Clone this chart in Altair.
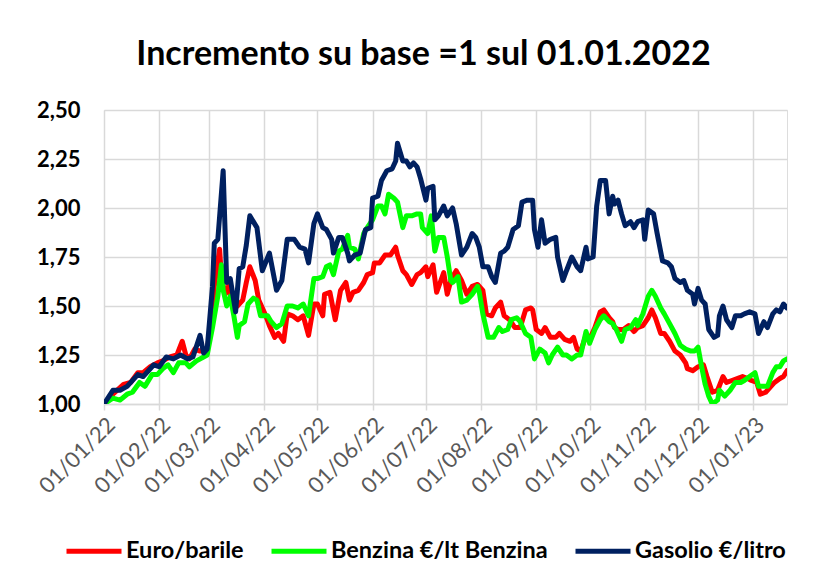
import altair as alt
import pandas as pd

series_names = ["Euro/barile", "Benzina €/lt Benzina", "Gasolio €/litro"]
series_colors = ["#FF0000", "#00FF00", "#002060"]

# days elapsed since 01/01/2022 and index values (base = 1)
euro_days = [0,5,11,15,19,22,26,30,33,37,41,44,46,48,51,54,58,61,62,65,
             66,68,70,72,75,78,80,82,85,87,91,93,96,98,101,103,106,109,112,115,
             118,120,123,124,127,130,133,136,138,140,143,146,148,151,152,155,158,161,164,165,
             168,170,173,176,178,181,182,185,187,189,191,193,195,196,198,201,204,207,210,213,
             215,218,220,223,225,228,231,234,237,240,241,243,246,248,251,254,256,259,262,264,
             266,268,271,273,276,279,281,284,286,287,289,292,295,298,300,303,306,308,310,313,
             315,318,321,324,327,328,331,334,337,339,342,345,348,350,353,356,359,362,364,367,
             369,372,375,377,380,382,384]
euro_vals = [1.00,1.05,1.10,1.11,1.16,1.16,1.19,1.21,1.22,1.24,1.25,1.32,1.25,1.23,1.28,1.27,1.28,1.45,1.60,1.79,
             1.65,1.56,1.60,1.51,1.50,1.53,1.62,1.70,1.63,1.53,1.45,1.40,1.34,1.36,1.32,1.46,1.45,1.43,1.45,1.35,
             1.51,1.51,1.45,1.56,1.57,1.43,1.58,1.62,1.53,1.57,1.58,1.62,1.66,1.67,1.72,1.72,1.76,1.76,1.80,1.76,
             1.68,1.66,1.61,1.66,1.67,1.70,1.65,1.71,1.57,1.62,1.67,1.56,1.63,1.65,1.68,1.63,1.56,1.60,1.61,1.58,
             1.46,1.45,1.49,1.52,1.45,1.43,1.39,1.39,1.48,1.49,1.48,1.38,1.36,1.39,1.34,1.34,1.36,1.33,1.32,1.34,
             1.28,1.27,1.35,1.33,1.39,1.47,1.48,1.44,1.42,1.39,1.38,1.38,1.40,1.37,1.39,1.40,1.44,1.48,1.44,1.36,
             1.36,1.32,1.27,1.25,1.21,1.18,1.17,1.19,1.20,1.14,1.06,1.07,1.14,1.11,1.12,1.13,1.14,1.13,1.12,1.11,
             1.05,1.06,1.09,1.11,1.13,1.14,1.17]

benz_days = [0,5,9,13,16,20,23,27,30,33,36,39,42,46,48,52,56,58,61,64,
             66,67,69,71,73,75,76,79,81,84,86,88,92,94,97,100,103,106,109,112,
             115,118,120,123,125,127,129,132,134,137,138,141,143,146,148,151,154,156,158,160,
             163,165,168,170,173,176,178,179,182,184,186,188,191,193,195,196,199,201,204,207,
             210,211,213,216,219,222,224,227,229,232,234,237,240,242,245,248,250,252,255,258,
             260,263,266,268,271,273,276,279,281,284,286,288,291,293,296,299,300,303,306,308,
             310,313,315,318,321,324,327,330,332,334,336,338,340,342,345,346,349,352,355,358,
             360,363,366,368,371,373,376,378,380,382,384]
benz_vals = [1.00,1.03,1.02,1.05,1.06,1.11,1.09,1.15,1.15,1.18,1.20,1.16,1.21,1.21,1.19,1.22,1.24,1.25,1.39,1.55,
             1.71,1.58,1.50,1.55,1.45,1.34,1.40,1.42,1.51,1.54,1.53,1.45,1.45,1.42,1.39,1.41,1.50,1.50,1.49,1.51,
             1.45,1.64,1.64,1.65,1.70,1.71,1.66,1.78,1.79,1.86,1.80,1.79,1.74,1.87,1.90,1.94,2.01,2.01,1.97,2.07,
             2.05,2.03,1.90,1.96,1.96,1.97,1.97,1.90,1.87,1.96,1.78,1.85,1.85,1.75,1.63,1.62,1.65,1.52,1.53,1.56,
             1.60,1.57,1.46,1.34,1.34,1.39,1.37,1.38,1.43,1.44,1.42,1.36,1.34,1.23,1.28,1.26,1.21,1.25,1.29,1.25,
             1.25,1.23,1.25,1.25,1.37,1.31,1.38,1.43,1.45,1.42,1.41,1.38,1.32,1.38,1.39,1.43,1.40,1.46,1.55,1.58,
             1.55,1.49,1.46,1.41,1.36,1.30,1.28,1.27,1.27,1.29,1.19,1.10,1.04,1.00,1.02,1.07,1.04,1.07,1.11,1.11,
             1.12,1.14,1.16,1.09,1.09,1.09,1.16,1.19,1.19,1.22,1.23]

gas_days = [0,5,9,13,19,22,28,31,35,39,43,47,50,54,56,58,61,62,64,67,
            69,71,74,76,78,80,82,86,89,93,97,100,103,107,110,113,115,118,120,123,
            125,128,129,132,134,137,138,141,144,147,150,151,154,156,159,162,164,165,168,170,
            172,174,176,178,181,182,185,186,188,191,193,196,198,201,204,207,209,211,213,216,
            218,220,223,225,227,230,233,235,238,241,242,244,246,248,251,254,255,258,260,263,
            266,268,271,272,275,277,279,282,284,286,287,289,291,293,296,298,300,303,304,306,
            309,311,314,317,319,321,324,326,328,331,332,334,336,338,340,343,345,346,348,350,
            353,355,358,360,363,366,368,371,373,376,378,380,382,384]
gas_vals = [1.00,1.07,1.07,1.09,1.15,1.14,1.20,1.19,1.24,1.23,1.25,1.23,1.24,1.35,1.26,1.28,1.60,1.82,1.84,2.19,
            1.62,1.64,1.47,1.69,1.70,1.81,1.96,1.90,1.68,1.77,1.58,1.63,1.84,1.84,1.80,1.79,1.72,1.92,1.97,1.90,
            1.89,1.84,1.77,1.85,1.85,1.77,1.73,1.76,1.77,1.89,1.90,2.05,2.06,2.14,2.19,2.20,2.24,2.33,2.24,2.24,
            2.21,2.23,2.21,2.15,2.04,2.10,2.11,1.94,1.96,2.01,1.96,2.00,1.92,1.76,1.80,1.87,1.85,1.80,1.70,1.70,
            1.65,1.62,1.77,1.78,1.80,1.89,1.91,2.03,2.04,2.04,1.89,1.80,1.94,1.82,1.84,1.85,1.75,1.63,1.68,1.75,
            1.70,1.68,1.80,1.74,1.75,2.01,2.14,2.14,1.97,2.06,2.02,2.04,1.97,1.91,1.93,1.90,1.93,1.94,1.84,1.99,
            1.97,1.87,1.73,1.72,1.70,1.64,1.62,1.63,1.58,1.56,1.51,1.59,1.53,1.51,1.38,1.34,1.35,1.45,1.50,1.43,
            1.39,1.45,1.45,1.46,1.47,1.46,1.36,1.42,1.39,1.46,1.48,1.47,1.51,1.49]

y_ticks = [1.00, 1.25, 1.50, 1.75, 2.00, 2.25, 2.50]
month_ticks = [(2022, m) for m in range(1, 13)] + [(2023, 1)]

start = pd.Timestamp("2022-01-01")
rows = []
for name, days, vals in zip(series_names, [euro_days, benz_days, gas_days], [euro_vals, benz_vals, gas_vals]):
    for d, v in zip(days, vals):
        rows.append({"data": start + pd.Timedelta(days=d), "serie": name, "valore": v})
df = pd.DataFrame(rows)

color = alt.Color(
    "serie:N",
    scale=alt.Scale(domain=series_names, range=series_colors),
    legend=alt.Legend(
        title=None, orient="none", legendX=-40, legendY=411, direction="horizontal",
        symbolType="stroke", symbolSize=3025, symbolStrokeWidth=5,
        labelFontSize=23.5, labelFontWeight="bold", labelColor="black", labelFont="Lato",
        labelLimit=400, columnPadding=17, labelOffset=2,
    ),
)

x = alt.X(
    "data:T",
    scale=alt.Scale(domain=[alt.DateTime(year=2022, month=1, date=1), alt.DateTime(year=2023, month=1, date=20)], nice=False),
    axis=alt.Axis(
        title=None,
        values=[alt.DateTime(year=y, month=m, date=1) for y, m in month_ticks],
        format="%d/%m/%y", labelAngle=-45, labelFontSize=22, labelColor="#595959", labelFont="Lato",
        labelPadding=4, domainColor="#D9D9D9", domainWidth=1.5, tickColor="#D9D9D9", tickSize=6,
        tickWidth=1.5, gridColor="#D9D9D9", gridWidth=1.5, labelOverlap=False,
    ),
)
y = alt.Y(
    "valore:Q",
    scale=alt.Scale(domain=[1.0, 2.5], nice=False, zero=False),
    axis=alt.Axis(
        title=None, values=y_ticks,
        labelExpr="replace(format(datum.value, '.2f'), '.', ',')",
        labelFontSize=22, labelFontWeight="bold", labelColor="black", labelFont="Lato",
        labelPadding=24, domain=False, ticks=False, gridColor="#D9D9D9", gridWidth=1.5,
    ),
)

base = alt.Chart(df).mark_line(strokeWidth=5, strokeJoin="round", strokeCap="round", clip=True).encode(
    x=x, y=y, color=color
)
layers = [base.transform_filter(alt.datum.serie == n) for n in series_names]

chart = alt.layer(*layers).properties(
    width=683,
    height=294,
    title=alt.TitleParams(
        "Incremento su base =1 sul 01.01.2022", fontSize=34, font="Lato", fontWeight="bold",
        color="black", anchor="middle", frame="group", dx=-22, offset=27,
    ),
    padding={"left": 96, "top": 102, "right": 19, "bottom": 165},
    autosize="none",
).configure_view(stroke=None).configure(font="Lato")

chart.save("out.html", embed_options={"renderer": "svg", "actions": False})
